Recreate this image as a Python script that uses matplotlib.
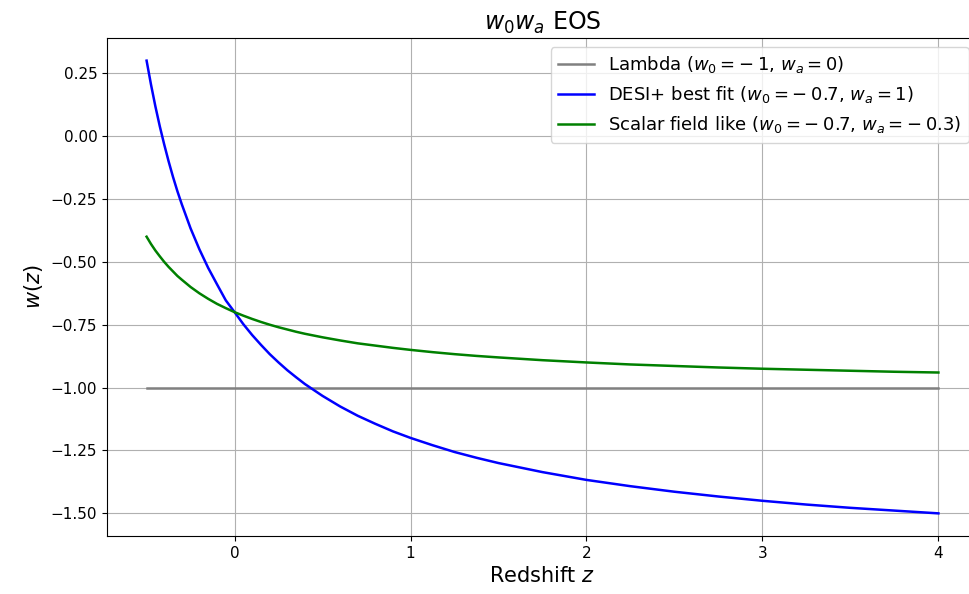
import matplotlib
matplotlib.use("Agg")
import matplotlib.pyplot as plt

# redshift samples and w(z) values
z = [-0.5, -0.475, -0.45, -0.425, -0.4, -0.375, -0.35, -0.325, -0.3, -0.25, -0.2, -0.15,
     -0.1, -0.05, 0.0, 0.05, 0.1, 0.15, 0.2, 0.25, 0.3, 0.35, 0.4, 0.5, 0.6, 0.7, 0.8, 0.9,
     1.0, 1.125, 1.25, 1.375, 1.5, 1.75, 2.0, 2.25, 2.5, 2.75, 3.0, 3.25, 3.5, 3.75, 4.0]

w_lambda = [-1.0] * len(z)

w_desi = [0.3, 0.205, 0.118, 0.039, -0.033, -0.1, -0.162, -0.219, -0.271, -0.367, -0.45, -0.524,
          -0.589, -0.653, -0.7, -0.748, -0.791, -0.83, -0.867, -0.9, -0.931, -0.959, -0.986,
          -1.033, -1.075, -1.112, -1.144, -1.174, -1.2, -1.229, -1.256, -1.279, -1.3, -1.336,
          -1.367, -1.392, -1.414, -1.433, -1.45, -1.465, -1.478, -1.489, -1.5]

w_scalar = [-0.4, -0.429, -0.455, -0.478, -0.5, -0.52, -0.538, -0.556, -0.571, -0.6, -0.625, -0.647,
            -0.667, -0.684, -0.7, -0.714, -0.727, -0.739, -0.75, -0.76, -0.769, -0.778, -0.786,
            -0.8, -0.8125, -0.824, -0.833, -0.842, -0.85, -0.859, -0.867, -0.874, -0.88, -0.891,
            -0.9, -0.908, -0.914, -0.92, -0.925, -0.929, -0.933, -0.937, -0.94]

fig = plt.figure(figsize=(9.69, 5.94), dpi=100)
ax = fig.add_axes([107/969, 58/594, 871/969, 498/594])

ax.plot(z, w_lambda, color="gray", lw=1.8, label=r"Lambda ($w_0=-\:1$, $w_a=0$)")
ax.plot(z, w_desi, color="blue", lw=1.8, label=r"DESI+ best fit ($w_0=-\:0.7$, $w_a=1$)")
ax.plot(z, w_scalar, color="green", lw=1.8, label=r"Scalar field like ($w_0=-\:0.7$, $w_a=-\:0.3$)")

ax.set_xlabel(r"Redshift $z$", fontsize=15)
ax.set_ylabel(r"$w(z)$", fontsize=15)
ax.set_title(r"$w_0w_a$ EOS", fontsize=17)
ax.tick_params(labelsize=11)
ax.legend(loc="upper right", fontsize=13)
ax.grid()

plt.savefig("out.png", dpi=100)
